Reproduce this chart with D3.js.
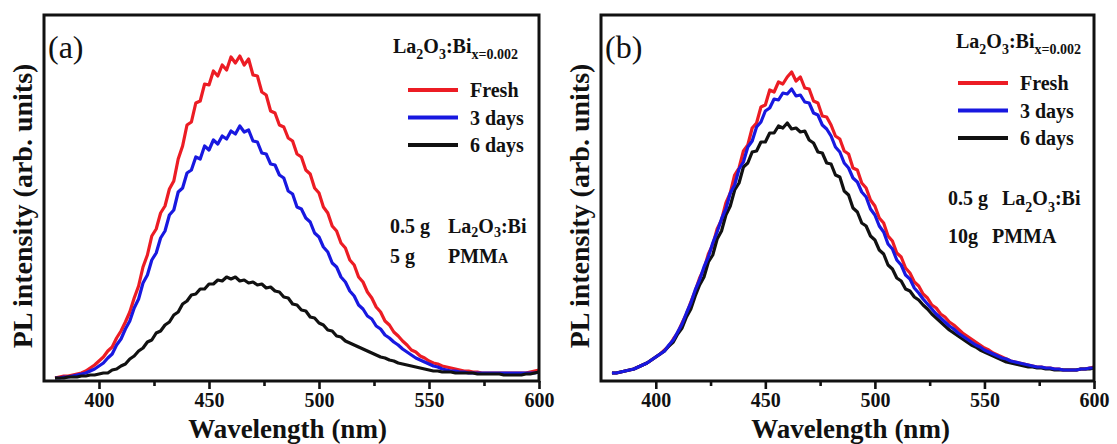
<!DOCTYPE html>
<html>
<head>
<meta charset="utf-8">
<script src="https://cdn.jsdelivr.net/npm/d3@7"></script>
<style>
  body { margin: 0; background: #fff; }
  svg { display: block; }
  text { font-family: "Liberation Serif", "Times New Roman", serif; fill: #111; }
</style>
</head>
<body>
<svg id="fig" width="1117" height="444"></svg>
<script>
// ---- data: PL emission spectra of La2O3:Bi (x = 0.002) / PMMA films, a.u. ----
const wavelengths = d3.range(380, 601, 2);          // nm, 2 nm sampling
const xMajorTicks = [400, 450, 500, 550, 600];
const xMinorTicks = [425, 475, 525, 575];
const seriesNames = ["Fresh", "3 days", "6 days"];

// (a) 0.5 g La2O3:Bi in 5 g PMMA
const freshA = [
  3,4,5,5,6,7,8,10,13,16,
  20,24,30,34,43,50,59,69,83,95,
  114,126,145,152,168,175,192,200,222,235,
  256,259,278,280,297,296,310,305,316,311,
  324,318,325,316,322,306,305,289,286,270,
  268,256,254,243,240,227,224,211,207,193,
  188,174,168,155,150,138,133,121,116,104,
  99,89,83,74,69,60,56,49,45,40,
  36,31,29,25,23,20,18,17,15,14,
  13,12,11,10,10,9,9,8,8,8,
  8,8,8,8,8,8,8,8,9,10,
  11];
const days3A = [
  3,3,4,4,5,6,7,8,10,12,
  15,18,23,27,36,42,52,60,73,82,
  98,106,121,128,143,150,166,171,189,193,
  208,211,224,222,235,231,241,237,245,242,
  250,247,255,249,251,240,239,228,227,217,
  216,206,203,190,187,174,172,163,159,148,
  144,134,129,118,114,104,99,90,85,76,
  72,65,62,55,52,46,43,39,36,32,
  29,26,23,21,19,17,15,14,12,11,
  10,10,9,9,8,8,8,8,8,8,
  8,8,8,8,8,8,8,8,8,8,
  9];
const days6A = [
  3,3,3,4,4,4,5,5,6,6,
  7,8,8,11,12,15,17,22,25,30,
  33,39,41,48,50,56,59,66,69,77,
  80,86,87,92,92,97,97,101,100,104,
  102,104,100,101,98,99,96,97,93,94,
  90,89,84,83,77,76,71,70,64,63,
  58,56,51,50,45,44,40,38,36,34,
  32,30,28,26,24,23,21,20,18,17,
  16,15,14,13,12,11,10,10,9,9,
  9,8,8,8,8,8,7,7,7,7,
  7,7,6,6,6,6,6,7,7,8,
  9];

// (b) 0.5 g La2O3:Bi in 10 g PMMA
const freshB = [
  8,8,9,10,11,12,14,16,18,21,
  24,27,31,35,42,48,58,67,79,90,
  103,112,127,136,152,161,178,188,206,213,
  230,236,253,258,274,276,291,289,299,297,
  304,309,300,304,293,292,280,278,265,264,
  256,245,242,230,227,213,211,198,193,181,
  175,163,158,145,140,128,124,113,108,99,
  95,87,83,76,73,67,64,59,56,52,
  48,45,42,39,36,33,31,28,26,24,
  22,20,19,18,17,16,15,14,14,13,
  13,12,12,11,11,11,11,12,12,13,
  14];
const days3B = [
  8,8,9,10,11,12,14,16,18,21,
  24,27,30,36,41,49,57,68,78,91,
  101,114,124,138,149,162,172,188,196,212,
  219,234,240,254,259,270,273,282,281,288,
  287,292,285,286,279,278,268,266,256,252,
  245,234,229,218,213,203,199,189,184,172,
  166,155,149,137,132,121,116,106,102,93,
  88,82,77,72,67,63,59,55,52,48,
  45,42,39,36,34,31,29,27,25,23,
  22,20,19,18,17,16,15,14,14,13,
  13,12,12,11,11,11,11,12,12,13,
  13];
const days6B = [
  8,8,9,10,11,12,14,16,18,21,
  24,27,30,35,39,47,53,64,72,85,
  96,104,119,126,142,150,166,175,191,198,
  214,218,229,230,239,239,248,248,255,253,
  258,252,253,249,250,241,238,229,228,218,
  217,206,204,190,186,173,169,158,155,145,
  141,131,127,116,112,103,100,92,90,84,
  81,76,72,67,63,59,55,51,48,45,
  42,39,36,34,31,29,27,25,23,21,
  19,18,17,16,15,14,14,13,13,12,
  12,11,11,11,11,11,11,12,12,12,
  13];

const intensityMax = 366;           // top of the intensity axis (a.u.)
const wlDomain = [375, 600];

// ---- drawing ----
const svg = d3.select("#fig");
const colors = { "Fresh": "#ec1c24", "3 days": "#1818e0", "6 days": "#111111" };

// appends runs of normal / subscript text; subscripts are shifted down in px
function chem(textSel, parts, subSize, shift) {
  let down = false;
  parts.forEach(([s, isSub]) => {
    const t = textSel.append("tspan").text(s);
    if (isSub) {
      t.attr("font-size", subSize);
      if (!down) { t.attr("dy", shift); down = true; }
    } else if (down) {
      t.attr("dy", -shift); down = false;
    }
  });
}

function panel(cfg) {
  const x = d3.scaleLinear().domain(wlDomain).range([cfg.left, cfg.right]);
  const y = d3.scaleLinear().domain([0, intensityMax]).range([cfg.bottom, cfg.top]);
  const g = svg.append("g");

  const line = d3.line()
    .x((d, i) => x(wavelengths[i]))
    .y(d => y(d))
    .curve(d3.curveLinear);

  cfg.order.forEach(k => {
    g.append("path")
      .datum(cfg.series[k])
      .attr("d", line)
      .attr("fill", "none")
      .attr("stroke", colors[seriesNames[k]])
      .attr("stroke-width", 3.2)
      .attr("stroke-linejoin", "round");
  });

  // frame
  g.append("rect")
    .attr("x", x(wlDomain[0])).attr("y", y(intensityMax))
    .attr("width", x(wlDomain[1]) - x(wlDomain[0]))
    .attr("height", y(0) - y(intensityMax))
    .attr("fill", "none").attr("stroke", "#111").attr("stroke-width", 3);

  // bottom axis: major ticks with labels, minor ticks without
  const ax = g.append("g").attr("transform", `translate(0,${cfg.bottom})`)
    .call(d3.axisBottom(x).tickValues(xMajorTicks).tickSize(8).tickPadding(4).tickFormat(d3.format("d")));
  ax.select(".domain").remove();
  ax.selectAll(".tick line").attr("stroke", "#111").attr("stroke-width", 2.6);
  ax.selectAll(".tick text")
    .attr("font-family", "Liberation Serif, serif")
    .attr("font-weight", "bold").attr("font-size", 20).attr("fill", "#111");

  const axm = g.append("g").attr("transform", `translate(0,${cfg.bottom})`)
    .call(d3.axisBottom(x).tickValues(xMinorTicks).tickSize(5).tickFormat(""));
  axm.select(".domain").remove();
  axm.selectAll(".tick line").attr("stroke", "#111").attr("stroke-width", 2.6);

  // axis titles
  g.append("text")
    .attr("x", (cfg.left + cfg.right) / 2 + cfg.xLabelShift).attr("y", 438)
    .attr("text-anchor", "middle").attr("font-weight", "bold").attr("font-size", 27)
    .text("Wavelength (nm)");
  g.append("text")
    .attr("transform", `translate(${cfg.yLabelX},206) rotate(-90)`)
    .attr("text-anchor", "middle").attr("font-weight", "bold").attr("font-size", 28)
    .text("PL intensity (arb. units)");

  // panel tag
  g.append("text").attr("x", cfg.left + 4).attr("y", cfg.top + 43)
    .attr("font-size", 32).text(cfg.tag);

  // legend
  const lg = g.append("g");
  const title = lg.append("text").attr("x", cfg.legTitleX).attr("y", cfg.legTitleY)
    .attr("font-weight", "bold").attr("font-size", 20);
  chem(title, [["La", false], ["2", true], ["O", false], ["3", true], [":Bi", false], ["x=0.002", true]], 14, 6);

  seriesNames.forEach((name, i) => {
    const ly = cfg.legY0 + i * cfg.legDy;
    lg.append("line")
      .attr("x1", cfg.legX).attr("x2", cfg.legX + 50)
      .attr("y1", ly).attr("y2", ly)
      .attr("stroke", colors[name]).attr("stroke-width", 4);
    lg.append("text").attr("x", cfg.legX + 62).attr("y", ly + 7)
      .attr("font-weight", "bold").attr("font-size", 20).text(name);
  });

  // composition note
  const n1 = g.append("text").attr("x", cfg.noteX).attr("y", cfg.noteY)
    .attr("font-weight", "bold").attr("font-size", 20);
  n1.append("tspan").text(cfg.note1a);
  const n1b = n1.append("tspan").attr("x", cfg.noteX2);
  chem(n1b, [["La", false], ["2", true], ["O", false], ["3", true], [":Bi", false]], 14, cfg.noteSubShift);

  const n2 = g.append("text").attr("x", cfg.noteX).attr("y", cfg.noteY + cfg.noteDy)
    .attr("font-weight", "bold").attr("font-size", 20);
  n2.append("tspan").text(cfg.note2a);
  const n2b = n2.append("tspan").attr("x", cfg.noteX3);
  n2b.append("tspan").text("PMM");
  n2b.append("tspan").attr("font-size", cfg.smallA ? 14 : 20).text("A");
}

panel({
  tag: "(a)", left: 44, right: 539, top: 15, bottom: 381, yLabelX: 32, xLabelShift: -4,
  series: [freshA, days3A, days6A], order: [0, 1, 2],
  legTitleX: 393, legTitleY: 53, legX: 408, legY0: 90, legDy: 27.5,
  noteX: 390, noteX2: 448, noteX3: 448, noteY: 233, noteDy: 30, noteSubShift: 4,
  note1a: "0.5 g", note2a: "5 g", smallA: true
});

panel({
  tag: "(b)", left: 601, right: 1094, top: 15, bottom: 381, yLabelX: 589, xLabelShift: 3,
  series: [freshB, days3B, days6B], order: [0, 2, 1],
  legTitleX: 956, legTitleY: 48, legX: 958, legY0: 83, legDy: 27.5,
  noteX: 948, noteX2: 1002, noteX3: 992, noteY: 205, noteDy: 38, noteSubShift: 7,
  note1a: "0.5 g", note2a: "10g", smallA: false
});
</script>
</body>
</html>
